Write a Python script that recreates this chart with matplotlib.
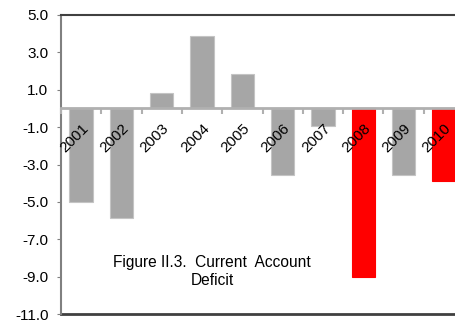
import numpy as np
import matplotlib.pyplot as plt

# data
years = ['2001', '2002', '2003', '2004', '2005', '2006', '2007', '2008', '2009', '2010']
deficit = [-5.0, -5.85, 0.85, 3.85, 1.83, -3.55, -0.95, -9.0, -3.55, -3.88]
highlight = ['2008', '2010']
yticks = [5.0, 3.0, 1.0, -1.0, -3.0, -5.0, -7.0, -9.0, -11.0]

plt.rcParams['font.family'] = ['Liberation Sans', 'DejaVu Sans']

fig = plt.figure(figsize=(4.55, 3.22), dpi=100)
W, H = 455, 322
ax = fig.add_axes([61 / W, (H - 314) / H, (464 - 61) / W, (314 - 15) / H])

x = np.arange(len(years))
colors = ['#ff0000' if y in highlight else '#a6a6a6' for y in years]
edges = ['#ff0000' if y in highlight else '#c4c4c4' for y in years]
ax.bar(x, deficit, width=0.58, color=colors, edgecolor=edges, linewidth=0.8, zorder=2)

ax.set_xlim(-0.5, len(years) - 0.5)
ax.set_ylim(-11, 5)
ax.set_yticks(yticks)
ax.set_yticklabels([f'{v:.1f}' for v in yticks], fontsize=11)
ax.tick_params(axis='y', direction='out', length=3, color='#808080', pad=6)

# category axis sits at zero
ax.spines['bottom'].set_position(('data', 0))
ax.spines['bottom'].set_color('#b0b0b0')
ax.spines['bottom'].set_linewidth(2)
ax.spines['bottom'].set_zorder(3)
ax.spines['left'].set_color('#808080')
ax.spines['left'].set_linewidth(1.5)
ax.spines['top'].set_color('#404040')
ax.spines['top'].set_linewidth(1.5)
ax.spines['right'].set_visible(False)
ax.axhline(-11, color='#404040', linewidth=2, clip_on=False)
ax.xaxis.set_zorder(4)

ax.set_xticks(x)
ax.set_xticklabels(years, fontsize=11, rotation=45, ha='right', va='top',
                   rotation_mode='anchor')
ax.set_xticks(np.arange(len(years) + 1) - 0.5, minor=True)
ax.tick_params(axis='x', which='major', length=0, pad=9)
ax.tick_params(axis='x', which='minor', direction='out', length=4,
               color='#b0b0b0', width=1.5)

ax.text(3.25, -8.7, 'Figure II.3.  Current  Account\nDeficit', fontsize=11.2,
        ha='center', va='center', linespacing=1.25)

fig.savefig('out.png', dpi=100)
